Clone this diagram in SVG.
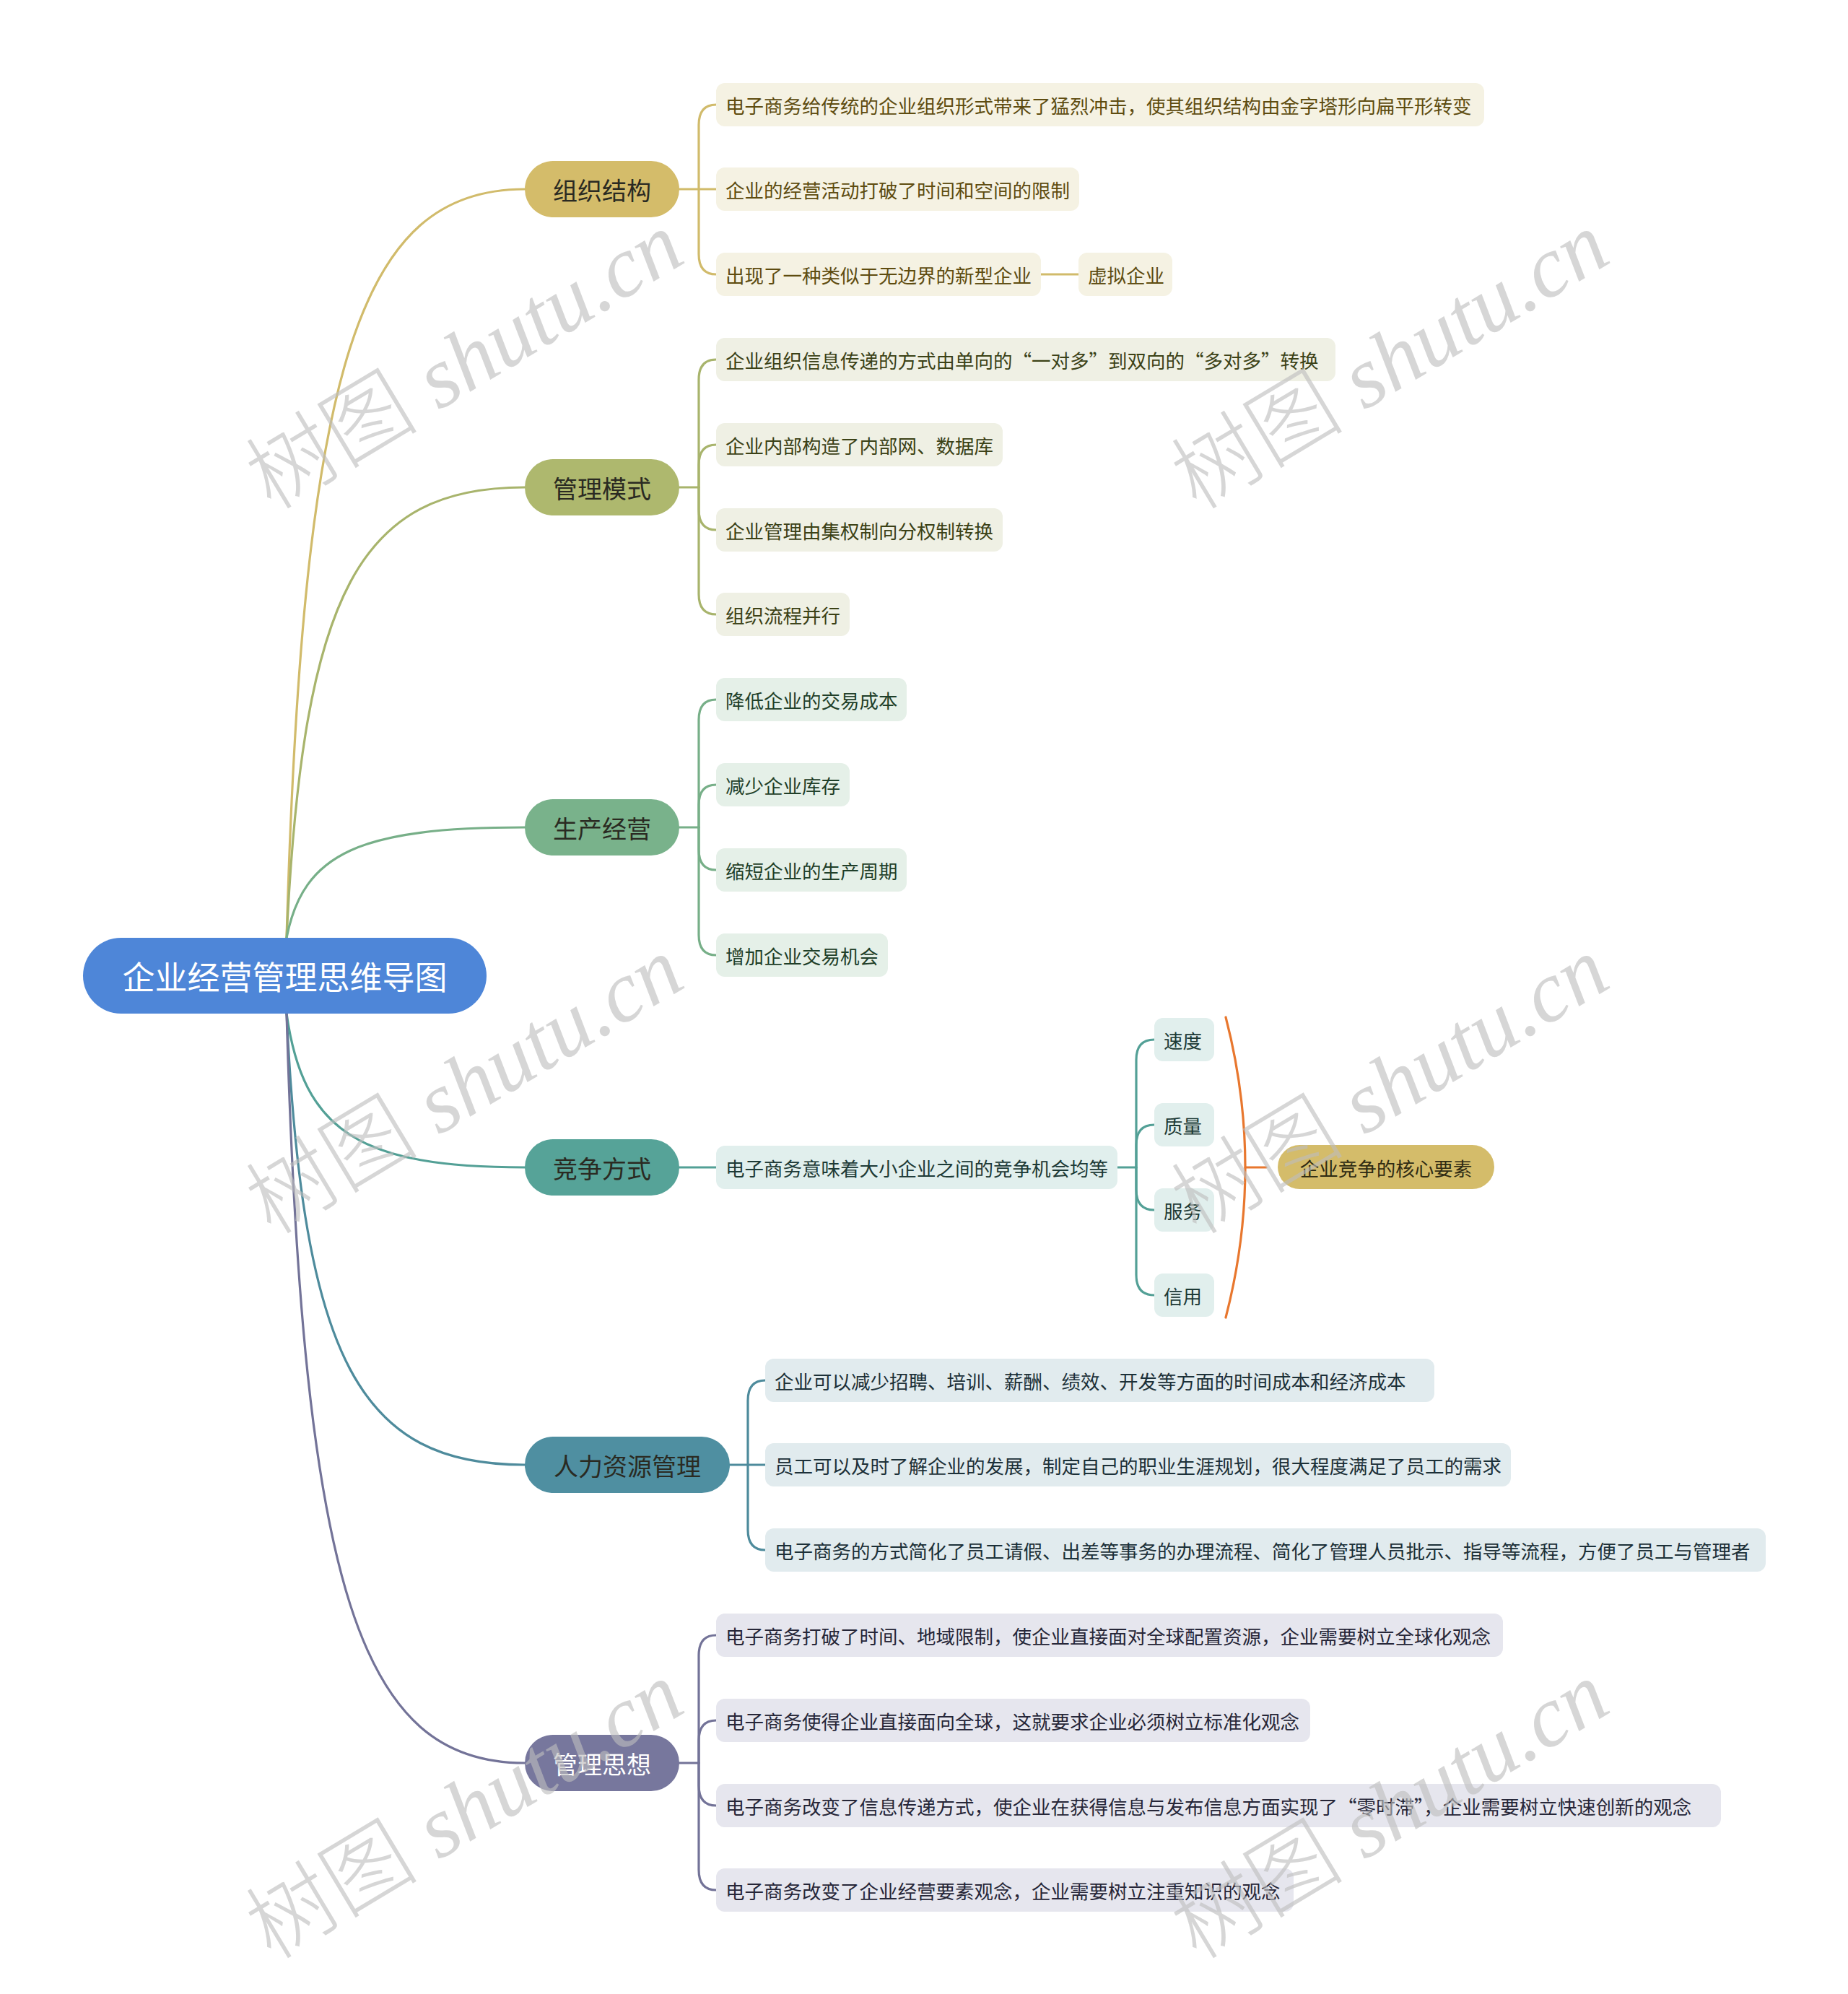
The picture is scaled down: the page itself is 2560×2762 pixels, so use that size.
<svg xmlns="http://www.w3.org/2000/svg" width="2560" height="2762" viewBox="0 0 2560 2762">
<style>
text{font-family:"Noto Sans CJK SC","Liberation Sans",sans-serif;}
.t1{font-size:34px;text-anchor:middle;dominant-baseline:central;fill:#2a2a22;}
.t2{font-size:26.5px;dominant-baseline:central;}
.root-t{font-size:45px;text-anchor:middle;dominant-baseline:central;fill:#ffffff;}
.c{fill:none;stroke-width:3.2;stroke-linecap:round;}
.wm{font-family:"Liberation Serif","Noto Sans CJK SC",serif;font-style:italic;font-size:120px;fill:#bdbdbd;fill-opacity:0.62;}
.wm tspan.cjk{font-family:"Noto Sans CJK SC",serif;font-style:normal;font-weight:300;}
.gA{fill:#f5f2e3}.tA{fill:#5e4c10}
.gB{fill:#eff0e4}.tB{fill:#3b4116}
.gC{fill:#e5f0e8}.tC{fill:#1f3f29}
.gD{fill:#e1efed}.tD{fill:#1d3a36}
.gE{fill:#e1ebee}.tE{fill:#1c3038}
.gF{fill:#e6e6ee}.tF{fill:#262638}
</style>
<rect width="2560" height="2762" fill="#ffffff"/>

<g id="connectors">
  <path class="c" stroke="#d1bb6b" d="M397,1299 C420,501 499,262 727,262"/>
  <path class="c" stroke="#a8b46c" d="M397,1299 C420,818 499,675 727,675"/>
  <path class="c" stroke="#77af88" d="M397,1299 C420,1181 499,1146 727,1146"/>
  <path class="c" stroke="#53a096" d="M397,1404 C420,1568 499,1617 727,1617"/>
  <path class="c" stroke="#4e8b9c" d="M397,1404 C420,1885 499,2029 727,2029"/>
  <path class="c" stroke="#737398" d="M397,1404 C420,2203 499,2442 727,2442"/>

  <g stroke="#d1bb6b" class="c">
    <path class="c" d="M941,262 L992,262"/>
    <path class="c" d="M968,262 L968,173 Q968,145 992,145"/>
    <path class="c" d="M968,262 L968,352 Q968,380 992,380"/>
    <path class="c" d="M1442,380 L1494,380"/>
  </g>
  <g stroke="#a8b46c" class="c">
    <path class="c" d="M941,675 L968,675"/>
    <path class="c" d="M968,675 L968,526 Q968,498 992,498"/>
    <path class="c" d="M968,675 L968,644 Q968,616 992,616"/>
    <path class="c" d="M968,675 L968,706 Q968,734 992,734"/>
    <path class="c" d="M968,675 L968,823 Q968,851 992,851"/>
  </g>
  <g stroke="#77af88" class="c">
    <path class="c" d="M941,1146 L968,1146"/>
    <path class="c" d="M968,1146 L968,997 Q968,969 992,969"/>
    <path class="c" d="M968,1146 L968,1115 Q968,1087 992,1087"/>
    <path class="c" d="M968,1146 L968,1177 Q968,1205 992,1205"/>
    <path class="c" d="M968,1146 L968,1295 Q968,1323 992,1323"/>
  </g>
  <g stroke="#53a096" class="c">
    <path class="c" d="M941,1617 L992,1617"/>
    <path class="c" d="M1548,1617 L1574,1617"/>
    <path class="c" d="M1574,1617 L1574,1468 Q1574,1440 1599,1440"/>
    <path class="c" d="M1574,1617 L1574,1586 Q1574,1558 1599,1558"/>
    <path class="c" d="M1574,1617 L1574,1648 Q1574,1676 1599,1676"/>
    <path class="c" d="M1574,1617 L1574,1766 Q1574,1794 1599,1794"/>
  </g>
  <g stroke="#e8772e" class="c">
    <path class="c" stroke-width="3.6" d="M1698,1409 Q1752,1617 1698,1825"/>
    <path class="c" stroke-width="3.6" d="M1725,1617 L1754,1617"/>
  </g>
  <g stroke="#4e8b9c" class="c">
    <path class="c" d="M1011,2029 L1060,2029"/>
    <path class="c" d="M1036,2029 L1036,1940 Q1036,1912 1060,1912"/>
    <path class="c" d="M1036,2029 L1036,2119 Q1036,2147 1060,2147"/>
  </g>
  <g stroke="#737398" class="c">
    <path class="c" d="M941,2442 L968,2442"/>
    <path class="c" d="M968,2442 L968,2293 Q968,2265 992,2265"/>
    <path class="c" d="M968,2442 L968,2411 Q968,2383 992,2383"/>
    <path class="c" d="M968,2442 L968,2473 Q968,2501 992,2501"/>
    <path class="c" d="M968,2442 L968,2590 Q968,2618 992,2618"/>
  </g>
</g>

<g id="root">
  <rect x="115" y="1299" width="559" height="105" rx="52.5" fill="#4e86d8"/>
  <text class="root-t" x="394.5" y="1351.5">企业经营管理思维导图</text>
</g>

<g id="n-zuzhi">
  <rect x="727" y="223" width="214" height="78" rx="39" fill="#d4bc6a"/>
  <text class="t1" x="834" y="262">组织结构</text>
</g>
<g id="n-guanli">
  <rect x="727" y="636" width="214" height="78" rx="39" fill="#aeb86e"/>
  <text class="t1" x="834" y="675">管理模式</text>
</g>
<g id="n-shengchan">
  <rect x="727" y="1107" width="214" height="78" rx="39" fill="#79b28b"/>
  <text class="t1" x="834" y="1146">生产经营</text>
</g>
<g id="n-jingzheng">
  <rect x="727" y="1578" width="214" height="78" rx="39" fill="#56a398"/>
  <text class="t1" x="834" y="1617">竞争方式</text>
</g>
<g id="n-renli">
  <rect x="727" y="1990" width="284" height="78" rx="39" fill="#4f8fa1"/>
  <text class="t1" x="869" y="2029">人力资源管理</text>
</g>
<g id="n-sixiang">
  <rect x="727" y="2403" width="214" height="78" rx="39" fill="#77779d"/>
  <text class="t1" x="834" y="2442" style="fill:#ffffff">管理思想</text>
</g>

<g id="a0"><rect class="gA" x="992" y="115" width="1064" height="60" rx="12"/><text class="t2 tA" x="1005" y="145">电子商务给传统的企业组织形式带来了猛烈冲击，使其组织结构由金字塔形向扁平形转变</text></g>
<g id="a1"><rect class="gA" x="992" y="232" width="503" height="60" rx="12"/><text class="t2 tA" x="1005" y="262">企业的经营活动打破了时间和空间的限制</text></g>
<g id="a2"><rect class="gA" x="992" y="350" width="450" height="60" rx="12"/><text class="t2 tA" x="1005" y="380">出现了一种类似于无边界的新型企业</text></g>
<g id="a2a"><rect class="gA" x="1494" y="350" width="130" height="60" rx="12"/><text class="t2 tA" x="1507" y="380">虚拟企业</text></g>

<g id="b0"><rect class="gB" x="992" y="468" width="858" height="60" rx="12"/><text class="t2 tB" x="1005" y="498">企业组织信息传递的方式由单向的“一对多”到双向的“多对多”转换</text></g>
<g id="b1"><rect class="gB" x="992" y="586" width="397" height="60" rx="12"/><text class="t2 tB" x="1005" y="616">企业内部构造了内部网、数据库</text></g>
<g id="b2"><rect class="gB" x="992" y="704" width="397" height="60" rx="12"/><text class="t2 tB" x="1005" y="734">企业管理由集权制向分权制转换</text></g>
<g id="b3"><rect class="gB" x="992" y="821" width="185" height="60" rx="12"/><text class="t2 tB" x="1005" y="851">组织流程并行</text></g>

<g id="c0"><rect class="gC" x="992" y="939" width="264" height="60" rx="12"/><text class="t2 tC" x="1005" y="969">降低企业的交易成本</text></g>
<g id="c1"><rect class="gC" x="992" y="1057" width="185" height="60" rx="12"/><text class="t2 tC" x="1005" y="1087">减少企业库存</text></g>
<g id="c2"><rect class="gC" x="992" y="1175" width="264" height="60" rx="12"/><text class="t2 tC" x="1005" y="1205">缩短企业的生产周期</text></g>
<g id="c3"><rect class="gC" x="992" y="1293" width="238" height="60" rx="12"/><text class="t2 tC" x="1005" y="1323">增加企业交易机会</text></g>

<g id="d0"><rect class="gD" x="992" y="1587" width="556" height="60" rx="12"/><text class="t2 tD" x="1005" y="1617">电子商务意味着大小企业之间的竞争机会均等</text></g>
<g id="d1"><rect class="gD" x="1599" y="1410" width="83" height="60" rx="12"/><text class="t2 tD" x="1612" y="1440">速度</text></g>
<g id="d2"><rect class="gD" x="1599" y="1528" width="83" height="60" rx="12"/><text class="t2 tD" x="1612" y="1558">质量</text></g>
<g id="d3"><rect class="gD" x="1599" y="1646" width="83" height="60" rx="12"/><text class="t2 tD" x="1612" y="1676">服务</text></g>
<g id="d4"><rect class="gD" x="1599" y="1764" width="83" height="60" rx="12"/><text class="t2 tD" x="1612" y="1794">信用</text></g>
<g id="core"><rect x="1770" y="1586" width="300" height="61" rx="30.5" fill="#d4bc6a"/><text class="t2" x="1920" y="1617" style="text-anchor:middle;fill:#2e2a12">企业竞争的核心要素</text></g>

<g id="e0"><rect class="gE" x="1060" y="1882" width="927" height="60" rx="12"/><text class="t2 tE" x="1073" y="1912">企业可以减少招聘、培训、薪酬、绩效、开发等方面的时间成本和经济成本</text></g>
<g id="e1"><rect class="gE" x="1060" y="1999" width="1033" height="60" rx="12"/><text class="t2 tE" x="1073" y="2029">员工可以及时了解企业的发展，制定自己的职业生涯规划，很大程度满足了员工的需求</text></g>
<g id="e2"><rect class="gE" x="1060" y="2117" width="1386" height="60" rx="12"/><text class="t2 tE" x="1073" y="2147">电子商务的方式简化了员工请假、出差等事务的办理流程、简化了管理人员批示、指导等流程，方便了员工与管理者</text></g>

<g id="f0"><rect class="gF" x="992" y="2235" width="1090" height="60" rx="12"/><text class="t2 tF" x="1005" y="2265">电子商务打破了时间、地域限制，使企业直接面对全球配置资源，企业需要树立全球化观念</text></g>
<g id="f1"><rect class="gF" x="992" y="2353" width="823" height="60" rx="12"/><text class="t2 tF" x="1005" y="2383">电子商务使得企业直接面向全球，这就要求企业必须树立标准化观念</text></g>
<g id="f2"><rect class="gF" x="992" y="2471" width="1392" height="60" rx="12"/><text class="t2 tF" x="1005" y="2501">电子商务改变了信息传递方式，使企业在获得信息与发布信息方面实现了“零时滞”，企业需要树立快速创新的观念</text></g>
<g id="f3"><rect class="gF" x="992" y="2588" width="800" height="60" rx="12"/><text class="t2 tF" x="1005" y="2618">电子商务改变了企业经营要素观念，企业需要树立注重知识的观念</text></g>

<g id="watermarks">
  <text class="wm" transform="translate(376,708) rotate(-31)"><tspan class="cjk">树图</tspan> shutu.cn</text>
  <text class="wm" transform="translate(1658,708) rotate(-31)"><tspan class="cjk">树图</tspan> shutu.cn</text>
  <text class="wm" transform="translate(376,1712) rotate(-31)"><tspan class="cjk">树图</tspan> shutu.cn</text>
  <text class="wm" transform="translate(1658,1712) rotate(-31)"><tspan class="cjk">树图</tspan> shutu.cn</text>
  <text class="wm" transform="translate(376,2716) rotate(-31)"><tspan class="cjk">树图</tspan> shutu.cn</text>
  <text class="wm" transform="translate(1658,2716) rotate(-31)"><tspan class="cjk">树图</tspan> shutu.cn</text>
</g>
</svg>
